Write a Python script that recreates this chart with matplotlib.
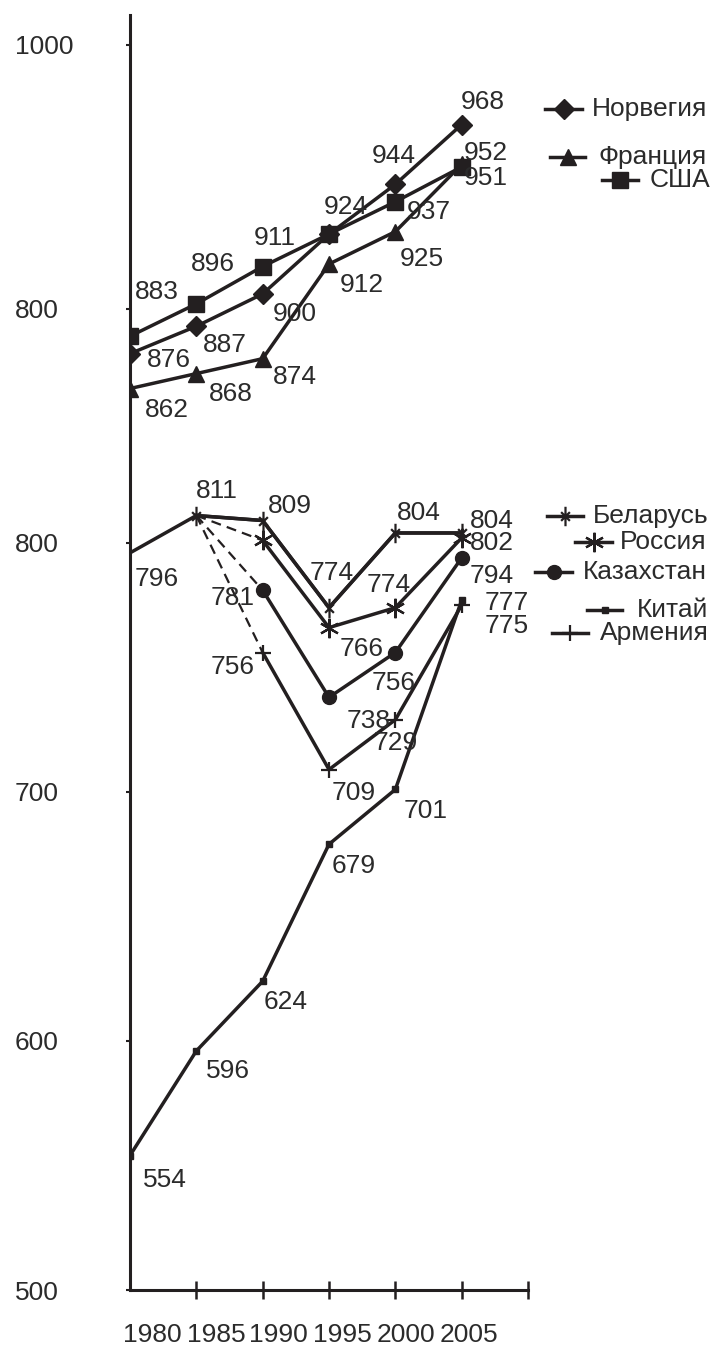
import numpy as np
import matplotlib.pyplot as plt
from matplotlib.path import Path
from matplotlib.lines import Line2D

plt.rcParams['font.family'] = ['Liberation Sans', 'DejaVu Sans']

# ---- data ----
years = ['1980', '1985', '1990', '1995', '2000', '2005']
steps = [0, 1, 2, 3, 4, 5]

norway = [876, 887, 900, 924, 944, 968]
france = [862, 868, 874, 912, 925, 952]
usa = [883, 896, 911, 924, 937, 951]

ussr = [796, 811]
belarus = [np.nan, 811, 809, 774, 804, 804]
russia = [np.nan, 811, 801, 766, 774, 802]
kazakhstan = [np.nan, 811, 781, 738, 756, 794]
armenia = [np.nan, 811, 756, 709, 729, 775]
china = [554, 596, 624, 679, 701, 777]

y_tick_values = [500, 600, 700, 800, 894, 1000]
y_tick_labels = ['500', '600', '700', '800', '800', '1000']

# label offsets (pixels right, pixels down); None = no label
off_norway = [(39, 6), (29, 19), (32, 20), (17, -27), (-2, -28), (21, -23)]
off_usa = [(27, -44), (17, -40), (12, -29), None, (33, 10), (24, 11)]
off_france = [(37, 21), (34, 20), (32, 18), (33, 21), (26, 27), (24, -11)]
off_ussr = [(27, 26), (20, -25)]
off_belarus = [None, None, (27, -15), (3, -35), (23, -20), (30, -12)]
off_russia = [None, None, None, (33, 21), (-7, -23), (30, 5)]
off_kazakhstan = [None, None, (-30, 8), (40, 24), (-2, 30), (30, 18)]
off_armenia = [None, None, (-30, 15), (25, 23), (0, 23), (45, 21)]
off_china = [(35, 24), (32, 20), (23, 21), (25, 22), (30, 22), (45, 3)]

INK = '#231f20'
TXT = '#2b2b2b'
LW = 2.5
FS = 19

bel_marker = Path([(0, -1), (0, 1), (-0.45, 0.45), (0.45, -0.45), (-0.45, -0.45), (0.45, 0.45)],
                  [Path.MOVETO, Path.LINETO, Path.MOVETO, Path.LINETO, Path.MOVETO, Path.LINETO])

styles = {
    'Норвегия': dict(marker='D', ms=10),
    'Франция': dict(marker='^', ms=11),
    'США': dict(marker='s', ms=11),
    'Беларусь': dict(marker=bel_marker, ms=14, mew=1.6),
    'Россия': dict(marker=(6, 2, 0), ms=14, mew=1.6),
    'Казахстан': dict(marker='o', ms=10),
    'Китай': dict(marker='s', ms=4.5),
    'Армения': dict(marker='+', ms=12, mew=1.6),
}

fig = plt.figure(figsize=(7.13, 13.58), dpi=100)
ax = fig.add_axes([130 / 713, 68 / 1358, 398 / 713, 1275 / 1358])


def draw(vals, name, dashed_start=False):
    st = styles[name]
    v = np.array(vals, dtype=float)
    if dashed_start:
        ax.plot(steps[1:3], v[1:3], color=INK, lw=1.6, dashes=(4.5, 2.8))
        ax.plot(steps[2:], v[2:], color=INK, lw=LW, mfc=INK, mec=INK, **st)
    else:
        ax.plot(steps, v, color=INK, lw=LW, mfc=INK, mec=INK, **st)


def put_labels(vals, offsets, xs=steps):
    for x, v, off in zip(xs, vals, offsets):
        if off is None:
            continue
        ax.annotate(f'{int(v)}', (x, v), xytext=(off[0], -off[1]),
                    textcoords='offset pixels', ha='center', va='center',
                    fontsize=FS, color=TXT)


draw(norway, 'Норвегия')
draw(france, 'Франция')
draw(usa, 'США')
ax.plot(steps[:2], ussr, color=INK, lw=LW)
draw(belarus, 'Беларусь')
ax.plot(steps[1:], belarus[1:], color=INK, lw=LW)
draw(russia, 'Россия', dashed_start=True)
draw(kazakhstan, 'Казахстан', dashed_start=True)
draw(armenia, 'Армения', dashed_start=True)
draw(china, 'Китай')

put_labels(norway, off_norway)
put_labels(usa, off_usa)
put_labels(france, off_france)
put_labels(ussr, off_ussr, steps[:2])
put_labels(belarus, off_belarus)
put_labels(russia, off_russia)
put_labels(kazakhstan, off_kazakhstan)
put_labels(armenia, off_armenia)
put_labels(china, off_china)

# axes
ax.set_xlim(0, 6)
ax.set_ylim(500, 1012)
for s in ['top', 'right']:
    ax.spines[s].set_visible(False)
for s in ['left', 'bottom']:
    ax.spines[s].set_linewidth(2.2)
    ax.spines[s].set_color(INK)

ax.set_xticks([1, 2, 3, 4, 5, 6])
ax.set_xticklabels([])
ax.tick_params(axis='x', which='major', direction='inout', length=13, width=1.8, color=INK)
x_label_pos = [0.33, 1.30, 2.23, 3.20, 4.16, 5.11]
ax.set_xticks(x_label_pos, labels=years, minor=True)
ax.tick_params(axis='x', which='minor', length=0, pad=24, labelsize=19, labelcolor=TXT)

ax.set_yticks(y_tick_values, labels=y_tick_labels)
ax.tick_params(axis='y', direction='out', length=3, width=1.5, color=INK,
               pad=80, labelsize=19, labelcolor=TXT)
for lbl in ax.get_yticklabels():
    lbl.set_horizontalalignment('left')


# hand-placed legend entries (pixel layout: line x0, x1, y, text x)
def fig_xy(px, py):
    return px / 713, 1 - py / 1358


legend_layout = [
    ('Норвегия', 545, 582, 109, 592),
    ('Франция', 550, 585, 157, 598),
    ('США', 602, 638, 180, 650),
    ('Беларусь', 547, 583, 516, 593),
    ('Россия', 575, 612, 542, 620),
    ('Казахстан', 535, 572, 572, 583),
    ('Китай', 587, 622, 610, 637),
    ('Армения', 552, 588, 633, 600),
]
for name, x0, x1, yy, tx in legend_layout:
    a = fig_xy(x0, yy)
    b = fig_xy(x1, yy)
    fig.add_artist(Line2D([a[0], b[0]], [a[1], b[1]], color=INK, lw=LW,
                          transform=fig.transFigure))
    m = fig_xy((x0 + x1) / 2, yy)
    st = styles[name]
    fig.add_artist(Line2D([m[0]], [m[1]], color=INK, lw=0, mfc=INK, mec=INK,
                          transform=fig.transFigure, **st))
    t = fig_xy(tx, yy)
    fig.text(t[0], t[1], name, ha='left', va='center', fontsize=FS, color=TXT)

fig.savefig('out.png', dpi=100)
